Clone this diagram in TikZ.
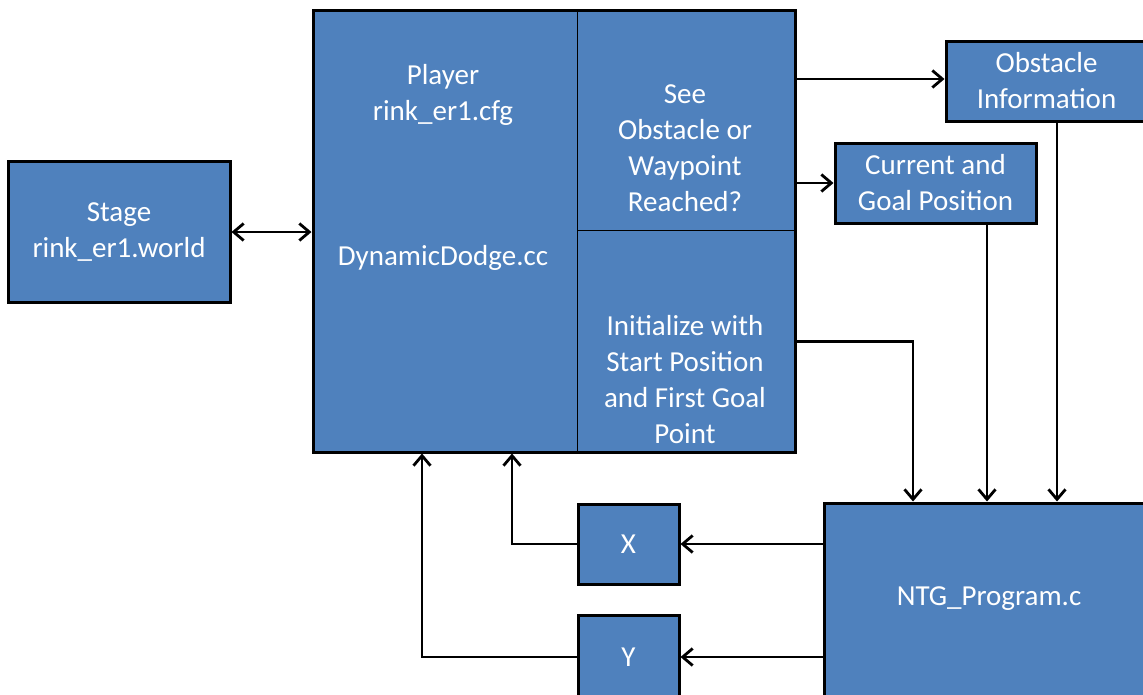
\documentclass[tikz,border=0pt]{standalone}
\usepackage{fontspec}
\setmainfont{Carlito}
\usetikzlibrary{arrows.meta}
\definecolor{boxblue}{HTML}{4F81BD}
\begin{document}
\begin{tikzpicture}[x=1pt,y=-1pt,
  block/.style={draw,line width=3pt,fill=boxblue,text=white,align=center,
    font=\fontsize{29}{36}\selectfont},
  celltext/.style={text=white,align=center,font=\fontsize{29}{36}\selectfont},
  divider/.style={line width=1.2pt},
  link/.style={line width=2.8pt,>={Straight Barb[length=10pt,width=17pt]}}]
  \clip (0,0) rectangle (1143,694);
  % boxes
  \node[block,minimum width=222pt,minimum height=141pt] (stage) at (119,232) {Stage\\rink\_er1.world};
  \node[block,minimum width=482pt,minimum height=442pt] (player) at (554,231) {};
  \node[minimum width=217pt,minimum height=221pt] (see) at (686.5,120.5) {};
  \node[minimum width=217pt,minimum height=221pt] (init) at (686.5,341.5) {};
  \draw[divider] (see.north west) -- (init.south west);
  \draw[divider] (init.north west) -- (init.north east);
  \node[celltext] (playertext) at (443,95) {Player\\rink\_er1.cfg};
  \node[celltext] (dodge) at (443,258) {DynamicDodge.cc};
  \node[celltext] (seetext) at (685,148) {See\\Obstacle or\\Waypoint\\Reached?};
  \node[celltext] (inittext) at (685,380) {Initialize with\\Start Position\\and First Goal\\Point};
  \node[block,minimum width=201pt,minimum height=80pt] (obst) at (1046.5,81) {Obstacle\\Information};
  \node[block,minimum width=201pt,minimum height=80pt] (cur) at (935.5,183) {Current and\\Goal Position};
  \node[block,minimum width=330pt,minimum height=220pt] (ntg) at (989,613) {};
  \node[celltext] (ntgtext) at (989,599) {NTG\_Program.c};
  \node[block,minimum width=101pt,minimum height=80pt] (xbox) at (628.5,544) {X};
  \node[block,minimum width=101pt,minimum height=84pt] (ybox) at (628.5,657) {Y};
  % connectors
  \draw[link,<->] (stage.east) -- (stage.east -| player.west);
  \draw[link,->] (see.east |- 0,79) -- (obst.west |- 0,79);
  \draw[link,->] (see.east |- cur.west) -- (cur.west);
  \draw[link,->] (init.east) -| (913,0 |- ntg.north);
  \draw[link,->] (987,0 |- cur.south) -- (987,0 |- ntg.north);
  \draw[link,->] (1057,0 |- obst.south) -- (1057,0 |- ntg.north);
  \draw[link,->] (ntg.west |- xbox.east) -- (xbox.east);
  \draw[link,->] (ntg.west |- ybox.east) -- (ybox.east);
  \draw[link,->] (xbox.west) -| (512,0 |- player.south);
  \draw[link,->] (ybox.west) -| (422,0 |- player.south);
\end{tikzpicture}
\end{document}
